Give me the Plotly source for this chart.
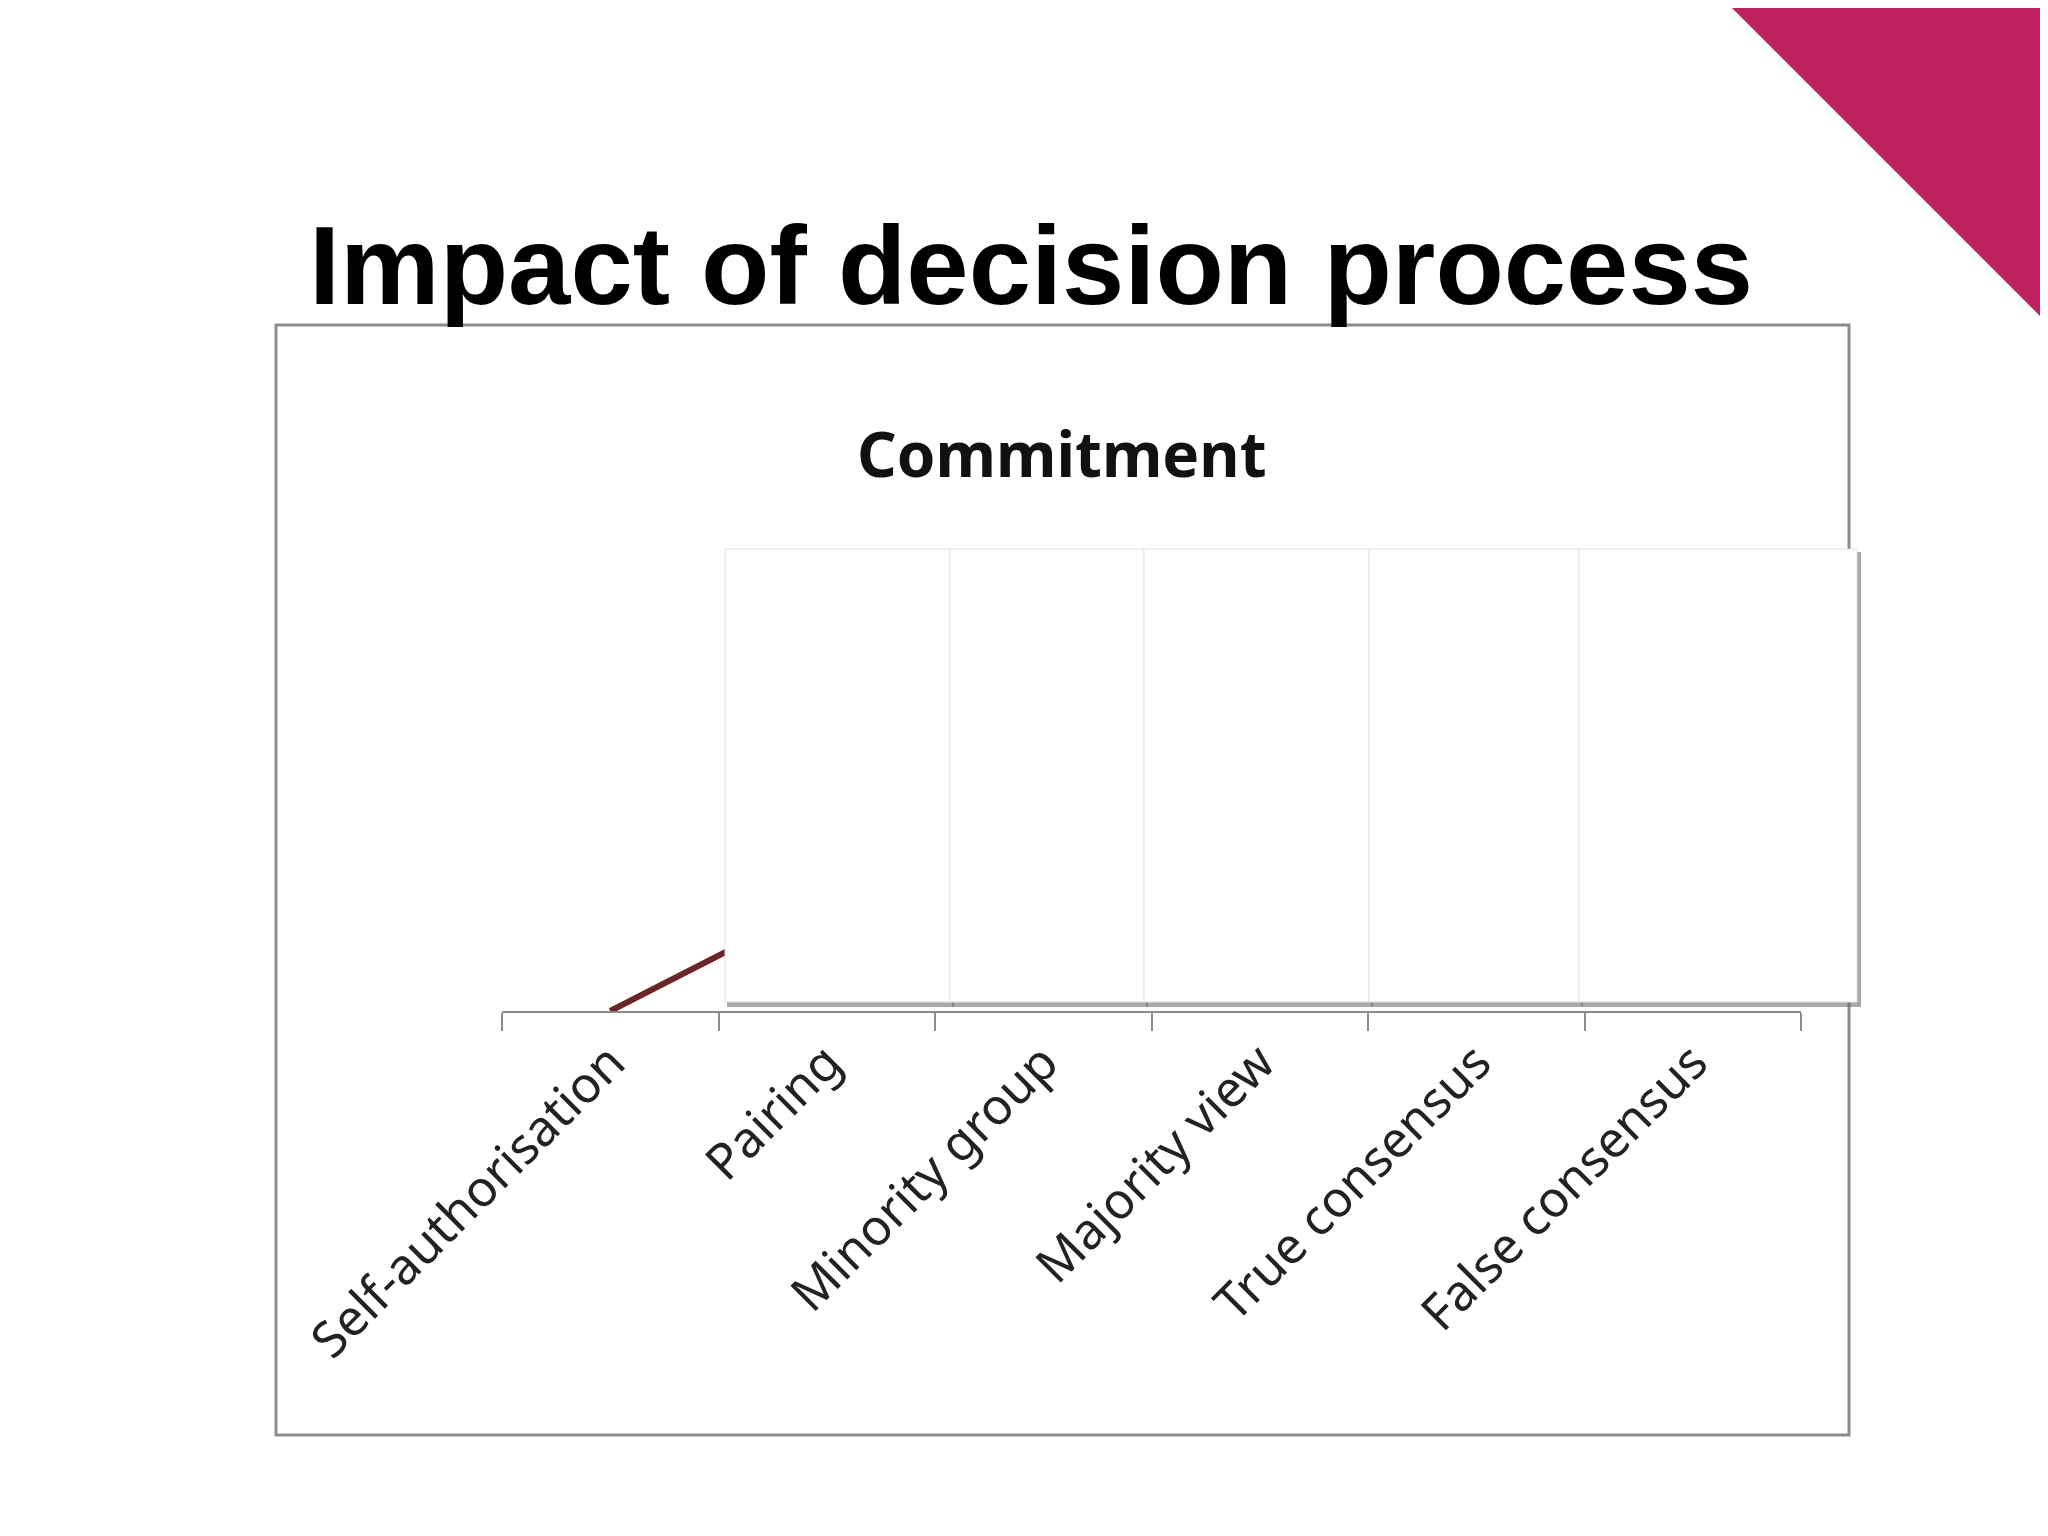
import plotly.graph_objects as go

categories = ["Self-authorisation", "Pairing", "Minority group", "Majority view", "True consensus", "False consensus"]
commitment = [0, 2.4, 4.0, 5.0, 6.0, 3.0]

W, H = 2048, 1536
def px(x): return x / W
def py(y): return 1 - y / H

fig = go.Figure()
fig.add_trace(go.Scatter(x=categories, y=commitment, mode="lines",
                         line=dict(color="#6B2427", width=6), showlegend=False))

shapes = []
shapes.append(dict(type="path", xref="paper", yref="paper",
                   path=f"M {px(1724)} {py(0)} L {px(2048)} {py(0)} L {px(2048)} {py(324)} Z",
                   fillcolor="#C0215F", line=dict(width=0)))
shapes.append(dict(type="rect", xref="paper", yref="paper", x0=px(268), x1=px(1841), y0=py(1427), y1=py(317),
                   line=dict(color="#8c8c8c", width=3), fillcolor="rgba(0,0,0,0)", layer="below"))
edges = [717, 942, 1136, 1361, 1571, 1849]
for i in range(len(edges) - 1):
    x0, x1 = edges[i], edges[i + 1]
    shapes.append(dict(type="rect", xref="paper", yref="paper", x0=px(x0 + 2), x1=px(x1 + 4), y0=py(999), y1=py(544),
                       fillcolor="#707070", line=dict(width=0), opacity=0.6))
    shapes.append(dict(type="rect", xref="paper", yref="paper", x0=px(x0), x1=px(x1), y0=py(994), y1=py(541),
                       fillcolor="white", line=dict(color="#e2e2e2", width=1)))

fig.update_layout(
    width=W, height=H, margin=dict(l=0, r=0, t=0, b=0, autoexpand=False),
    paper_bgcolor="white", plot_bgcolor="white",
    shapes=shapes,
    xaxis=dict(domain=[px(494), px(1793)], type="category", range=[-0.5, 5.5], automargin=False,
               showline=True, linecolor="#8c8c8c", linewidth=2, showgrid=False,
               ticks="outside", ticklen=18, tickcolor="#8c8c8c", tickwidth=2,
               tickson="boundaries", tickangle=-45,
               tickfont=dict(family="Noto Sans", size=50, color="#222")),
    yaxis=dict(domain=[py(1003), py(542)], range=[0, 10], visible=False, automargin=False),
    annotations=[
        dict(text="<b>Impact of decision process</b>", xref="paper", yref="paper", x=px(1023), y=py(193),
             showarrow=False, font=dict(family="Liberation Sans", size=112, color="black")),
        dict(text="<b>Commitment</b>", xref="paper", yref="paper", x=px(1054), y=py(401),
             showarrow=False, font=dict(family="Noto Sans", size=62, color="#111")),
    ],
)
fig.write_html("out.html")
